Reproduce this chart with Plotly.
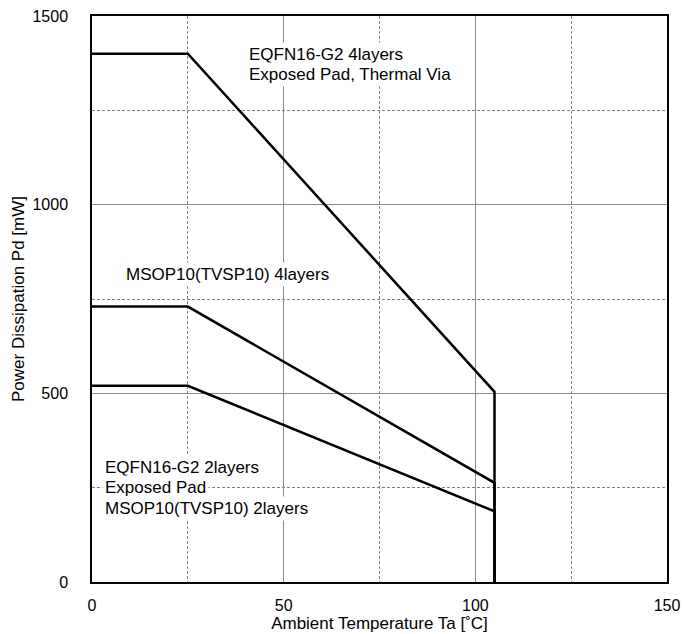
import plotly.graph_objects as go

# Data
temp_eqfn4 = [0, 25, 105, 105]
pd_eqfn4 = [1400, 1400, 504, 0]
temp_msop4 = [0, 25, 105, 105]
pd_msop4 = [730, 730, 262.8, 0]
temp_2layer = [0, 25, 105, 105]
pd_2layer = [520, 520, 187.2, 0]

x_ticks = [0, 50, 100, 150]
y_ticks = [0, 500, 1000, 1500]

FONT = "Liberation Sans, Arial, sans-serif"

fig = go.Figure()
for xs, ys in [(temp_eqfn4, pd_eqfn4), (temp_msop4, pd_msop4), (temp_2layer, pd_2layer)]:
    fig.add_trace(go.Scatter(x=xs, y=ys, mode="lines",
                             line=dict(color="black", width=2.5),
                             showlegend=False, hoverinfo="skip"))

labels = [
    ("EQFN16-G2 4layers", 40.2, 1398),
    ("Exposed Pad, Thermal Via", 40.2, 1346),
    ("MSOP10(TVSP10) 4layers", 8.1, 814),
    ("EQFN16-G2 2layers", 2.7, 304),
    ("Exposed Pad", 2.7, 250),
    ("MSOP10(TVSP10) 2layers", 2.7, 195),
]
for txt, x, y in labels:
    fig.add_annotation(x=x, y=y, xref="x", yref="y", text=txt, showarrow=False,
                       xanchor="left", yanchor="middle", bgcolor="white",
                       borderpad=2, font=dict(family=FONT, size=17, color="black"))

grid_major = "#8a8a8a"
grid_minor = "#808080"

fig.update_xaxes(range=[0, 150], tickvals=x_ticks, ticktext=[str(v) for v in x_ticks],
                 showgrid=True, gridcolor=grid_major, gridwidth=1,
                 minor=dict(tickvals=[25, 75, 125], showgrid=True, gridcolor=grid_minor,
                            griddash="3px,2px", gridwidth=1),
                 showline=True, linecolor="black", linewidth=1.5, mirror=True,
                 zeroline=False, ticks="", ticklabelstandoff=8, automargin=False,
                 tickfont=dict(family=FONT, size=16, color="black"),
                 title=dict(text="Ambient Temperature Ta [˚C]", standoff=4,
                            font=dict(family=FONT, size=17, color="black")))
fig.update_yaxes(range=[0, 1500], tickvals=y_ticks, ticktext=[str(v) for v in y_ticks],
                 showgrid=True, gridcolor=grid_major, gridwidth=1,
                 minor=dict(tickvals=[250, 750, 1250], showgrid=True, gridcolor=grid_minor,
                            griddash="3px,2px", gridwidth=1),
                 showline=True, linecolor="black", linewidth=1.5, mirror=True,
                 zeroline=False, ticks="", ticklabelstandoff=19, automargin=False,
                 tickfont=dict(family=FONT, size=16, color="black"),
                 title=dict(text="Power Dissipation Pd [mW]", standoff=4,
                            font=dict(family=FONT, size=17, color="black")))

fig.update_layout(width=683, height=634, margin=dict(l=92, r=16, t=16, b=52),
                  plot_bgcolor="white", paper_bgcolor="white",
                  font=dict(family=FONT, color="black"))

fig.write_html("out.html")
